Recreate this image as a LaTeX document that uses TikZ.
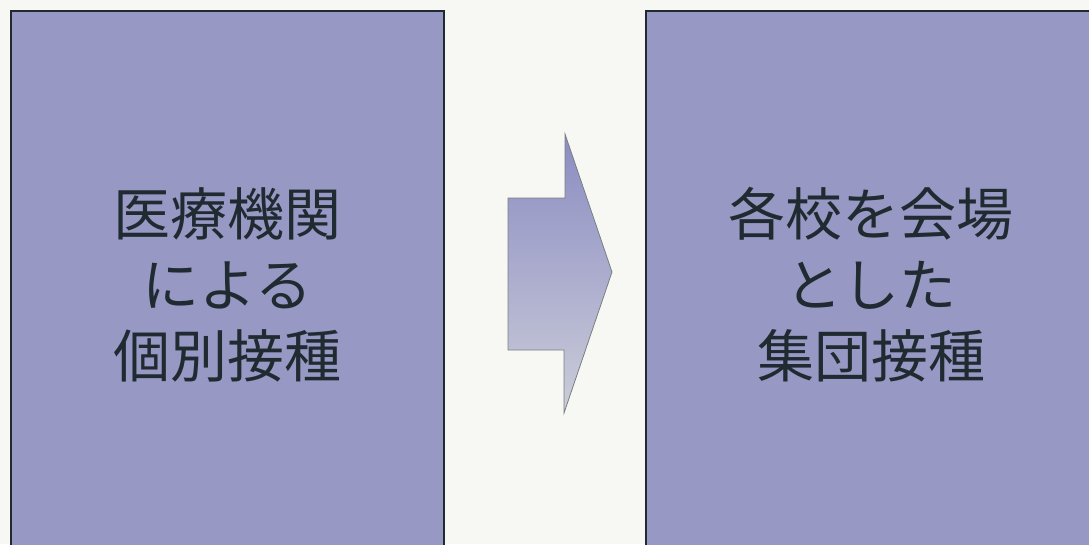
\documentclass[tikz,border=0pt]{standalone}
\usepackage{fontspec}
\newfontfamily\cjk{Noto Sans CJK JP}
\definecolor{paper}{HTML}{F7F7F3}
\definecolor{panel}{HTML}{9898C4}
\definecolor{edge}{HTML}{1E2B2F}
\definecolor{ink}{HTML}{1F2B30}
\definecolor{arrowtop}{HTML}{8C8CC2}
\definecolor{arrowbot}{HTML}{CBCDD9}
\tikzset{
	panelbox/.style={draw=edge,line width=2pt,fill=panel,rectangle,inner sep=0pt,
		minimum width=#1,minimum height=548pt,align=center,text=ink,
		font=\cjk\fontsize{57}{71}\selectfont},
}
\begin{document}
\begin{tikzpicture}[x=1pt,y=-1pt]
		\useasboundingbox (0,0) rectangle (1089,544);
		\fill [paper] (0,0) rectangle (1089,544);
		\clip (0,0) rectangle (1089,544);
		% panels
			\node [panelbox=433pt] (individual) at (227.5,285) {医療機関\\による\\個別接種};
			\node [panelbox=450pt] (group) at (871,285) {各校を会場\\とした\\集団接種};
		% block arrow
			\path [draw=edge!60,line width=0.8pt,top color=arrowtop,bottom color=arrowbot]
				(508,198) -- (565,198) -- (565,134) -- (612,272) -- (564,413)
				-- (564,350) -- (508,350) -- cycle;
\end{tikzpicture}
\end{document}
